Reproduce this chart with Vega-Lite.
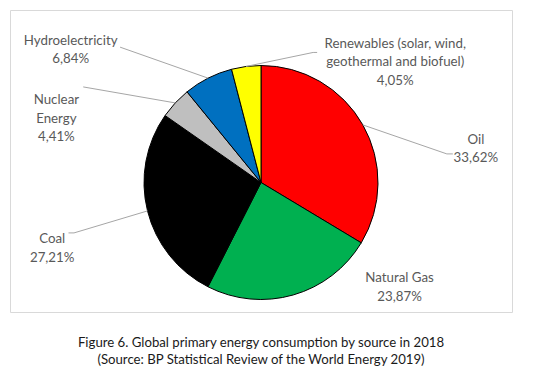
{
  "$schema": "https://vega.github.io/schema/vega-lite/v6.json",
  "width": 502,
  "height": 302,
  "autosize": {"type": "none"},
  "padding": {"left": 10, "top": 10, "right": 35, "bottom": 63},
  "background": "white",
  "config": {"view": {"stroke": "#d9d9d9", "strokeWidth": 1}},
  "title": {
    "text": ["Figure 6. Global primary energy consumption by source in 2018", "(Source: BP Statistical Review of the World Energy 2019)"],
    "orient": "bottom", "anchor": "middle", "frame": "group", "offset": 25,
    "font": "Lato", "fontSize": 13.2, "fontWeight": "normal", "color": "#1a1a1a", "lineHeight": 16.5
  },
  "data": {"values": [
    {"i": 1, "source": "Oil", "label": "Oil", "value": 33.62},
    {"i": 2, "source": "Natural Gas", "label": "Natural Gas", "value": 23.87},
    {"i": 3, "source": "Coal", "label": "Coal", "value": 27.21},
    {"i": 4, "source": "Nuclear Energy", "label": "Nuclear\nEnergy", "value": 4.41},
    {"i": 5, "source": "Hydroelectricity", "label": "Hydroelectricity", "value": 6.84},
    {"i": 6, "source": "Renewables (solar, wind, geothermal and biofuel)", "label": "Renewables (solar, wind,\ngeothermal and biofuel)", "value": 4.05}
  ]},
  "transform": [
    {"window": [{"op": "sum", "field": "value", "as": "cum"}], "sort": [{"field": "i"}]},
    {"calculate": "datum.cum - datum.value/2", "as": "mid"},
    {"calculate": "sin(2*PI*datum.mid/100)", "as": "rx"},
    {"calculate": "-cos(2*PI*datum.mid/100)", "as": "ry"},
    {"calculate": "datum.label + '\\n' + replace(format(datum.value, '.2f'), '.', ',') + '%'", "as": "txt"}
  ],
  "layer": [
    {
      "mark": {"type": "arc", "outerRadius": 117, "stroke": "#000000", "strokeWidth": 1, "x": {"expr": "width/2"}, "y": {"expr": "height/2+21.5"}},
      "encoding": {
        "theta": {"field": "value", "type": "quantitative", "stack": true, "scale": {"domain": [0, 100]}},
        "order": {"field": "i", "type": "quantitative"},
        "color": {"field": "source", "type": "nominal", "legend": null,
          "scale": {"domain": ["Oil", "Natural Gas", "Coal", "Nuclear Energy", "Hydroelectricity", "Renewables (solar, wind, geothermal and biofuel)"],
                    "range": ["#ff0000", "#00b050", "#000000", "#bfbfbf", "#0070c0", "#ffff00"]}}
      }
    },
    {
      "transform": [{"filter": "datum.i == 1"}],
      "layer": [
        {"mark": {"type": "text", "radius": 140, "dx": 93, "dy": 26, "x": {"expr": "width/2"}, "y": {"expr": "height/2+21.5"}, "font": "Lato", "fontSize": 13.3, "color": "#595959", "lineBreak": "\n", "lineHeight": 18.5, "align": "center", "baseline": "middle"},
         "encoding": {"theta": {"field": "mid", "type": "quantitative", "stack": null, "scale": {"domain": [0, 100]}}, "text": {"field": "txt"}}},
        {"mark": {"type": "rule", "color": "#a6a6a6", "strokeWidth": 1, "x2Offset": 84, "y2Offset": 29},
         "encoding": {"x": {"field": "rx", "type": "quantitative", "axis": null, "scale": {"domain": [-2.1453, 2.1453], "nice": false, "zero": false}},
                      "y": {"field": "ry", "type": "quantitative", "axis": null, "scale": {"domain": [-1.47436, 1.10684], "reverse": true, "nice": false, "zero": false}},
                      "x2": {"field": "rx"}, "y2": {"field": "ry"}}},
        {"mark": {"type": "rule", "color": "#a6a6a6", "strokeWidth": 1, "xOffset": 84, "yOffset": 29, "x2Offset": 90, "y2Offset": 29},
         "encoding": {"x": {"field": "rx", "type": "quantitative", "axis": null, "scale": {"domain": [-2.1453, 2.1453], "nice": false, "zero": false}},
                      "y": {"field": "ry", "type": "quantitative", "axis": null, "scale": {"domain": [-1.47436, 1.10684], "reverse": true, "nice": false, "zero": false}},
                      "x2": {"field": "rx"}, "y2": {"field": "ry"}}}
      ]
    },
    {
      "transform": [{"filter": "datum.i == 2"}],
      "layer": [
        {"mark": {"type": "text", "radius": 140, "dx": 100, "dy": -39, "x": {"expr": "width/2"}, "y": {"expr": "height/2+21.5"}, "font": "Lato", "fontSize": 13.3, "color": "#595959", "lineBreak": "\n", "lineHeight": 18.5, "align": "center", "baseline": "middle"},
         "encoding": {"theta": {"field": "mid", "type": "quantitative", "stack": null, "scale": {"domain": [0, 100]}}, "text": {"field": "txt"}}}
      ]
    },
    {
      "transform": [{"filter": "datum.i == 3"}],
      "layer": [
        {"mark": {"type": "text", "radius": 140, "dx": -73, "dy": 22.5, "x": {"expr": "width/2"}, "y": {"expr": "height/2+21.5"}, "font": "Lato", "fontSize": 13.3, "color": "#595959", "lineBreak": "\n", "lineHeight": 18.5, "align": "center", "baseline": "middle"},
         "encoding": {"theta": {"field": "mid", "type": "quantitative", "stack": null, "scale": {"domain": [0, 100]}}, "text": {"field": "txt"}}},
        {"mark": {"type": "rule", "color": "#a6a6a6", "strokeWidth": 1, "x2Offset": -73.5, "y2Offset": 22},
         "encoding": {"x": {"field": "rx", "type": "quantitative", "axis": null, "scale": {"domain": [-2.1453, 2.1453], "nice": false, "zero": false}},
                      "y": {"field": "ry", "type": "quantitative", "axis": null, "scale": {"domain": [-1.47436, 1.10684], "reverse": true, "nice": false, "zero": false}},
                      "x2": {"field": "rx"}, "y2": {"field": "ry"}}},
        {"mark": {"type": "rule", "color": "#a6a6a6", "strokeWidth": 1, "xOffset": -73.5, "yOffset": 22, "x2Offset": -79, "y2Offset": 22},
         "encoding": {"x": {"field": "rx", "type": "quantitative", "axis": null, "scale": {"domain": [-2.1453, 2.1453], "nice": false, "zero": false}},
                      "y": {"field": "ry", "type": "quantitative", "axis": null, "scale": {"domain": [-1.47436, 1.10684], "reverse": true, "nice": false, "zero": false}},
                      "x2": {"field": "rx"}, "y2": {"field": "ry"}}}
      ]
    },
    {
      "transform": [{"filter": "datum.i == 4"}],
      "layer": [
        {"mark": {"type": "text", "radius": 140, "dx": -102, "dy": 13, "x": {"expr": "width/2"}, "y": {"expr": "height/2+21.5"}, "font": "Lato", "fontSize": 13.3, "color": "#595959", "lineBreak": "\n", "lineHeight": 18.5, "align": "center", "baseline": "middle"},
         "encoding": {"theta": {"field": "mid", "type": "quantitative", "stack": null, "scale": {"domain": [0, 100]}}, "text": {"field": "txt"}}},
        {"mark": {"type": "rule", "color": "#a6a6a6", "strokeWidth": 1, "x2Offset": -92, "y2Offset": -16},
         "encoding": {"x": {"field": "rx", "type": "quantitative", "axis": null, "scale": {"domain": [-2.1453, 2.1453], "nice": false, "zero": false}},
                      "y": {"field": "ry", "type": "quantitative", "axis": null, "scale": {"domain": [-1.47436, 1.10684], "reverse": true, "nice": false, "zero": false}},
                      "x2": {"field": "rx"}, "y2": {"field": "ry"}}}
      ]
    },
    {
      "transform": [{"filter": "datum.i == 5"}],
      "layer": [
        {"mark": {"type": "text", "radius": 140, "dx": -127, "dy": -17, "x": {"expr": "width/2"}, "y": {"expr": "height/2+21.5"}, "font": "Lato", "fontSize": 13.3, "color": "#595959", "lineBreak": "\n", "lineHeight": 18.5, "align": "center", "baseline": "middle"},
         "encoding": {"theta": {"field": "mid", "type": "quantitative", "stack": null, "scale": {"domain": [0, 100]}}, "text": {"field": "txt"}}},
        {"mark": {"type": "rule", "color": "#a6a6a6", "strokeWidth": 1, "x2Offset": -88, "y2Offset": -31},
         "encoding": {"x": {"field": "rx", "type": "quantitative", "axis": null, "scale": {"domain": [-2.1453, 2.1453], "nice": false, "zero": false}},
                      "y": {"field": "ry", "type": "quantitative", "axis": null, "scale": {"domain": [-1.47436, 1.10684], "reverse": true, "nice": false, "zero": false}},
                      "x2": {"field": "rx"}, "y2": {"field": "ry"}}}
      ]
    },
    {
      "transform": [{"filter": "datum.i == 6"}],
      "layer": [
        {"mark": {"type": "text", "radius": 140, "dx": 152, "dy": 0, "x": {"expr": "width/2"}, "y": {"expr": "height/2+21.5"}, "font": "Lato", "fontSize": 13.3, "color": "#595959", "lineBreak": "\n", "lineHeight": 18.5, "align": "center", "baseline": "middle"},
         "encoding": {"theta": {"field": "mid", "type": "quantitative", "stack": null, "scale": {"domain": [0, 100]}}, "text": {"field": "txt"}}},
        {"mark": {"type": "rule", "color": "#a6a6a6", "strokeWidth": 1, "x2Offset": 67, "y2Offset": -14},
         "encoding": {"x": {"field": "rx", "type": "quantitative", "axis": null, "scale": {"domain": [-2.1453, 2.1453], "nice": false, "zero": false}},
                      "y": {"field": "ry", "type": "quantitative", "axis": null, "scale": {"domain": [-1.47436, 1.10684], "reverse": true, "nice": false, "zero": false}},
                      "x2": {"field": "rx"}, "y2": {"field": "ry"}}},
        {"mark": {"type": "rule", "color": "#a6a6a6", "strokeWidth": 1, "xOffset": 67, "yOffset": -14, "x2Offset": 71, "y2Offset": -14},
         "encoding": {"x": {"field": "rx", "type": "quantitative", "axis": null, "scale": {"domain": [-2.1453, 2.1453], "nice": false, "zero": false}},
                      "y": {"field": "ry", "type": "quantitative", "axis": null, "scale": {"domain": [-1.47436, 1.10684], "reverse": true, "nice": false, "zero": false}},
                      "x2": {"field": "rx"}, "y2": {"field": "ry"}}}
      ]
    }
  ]
}
